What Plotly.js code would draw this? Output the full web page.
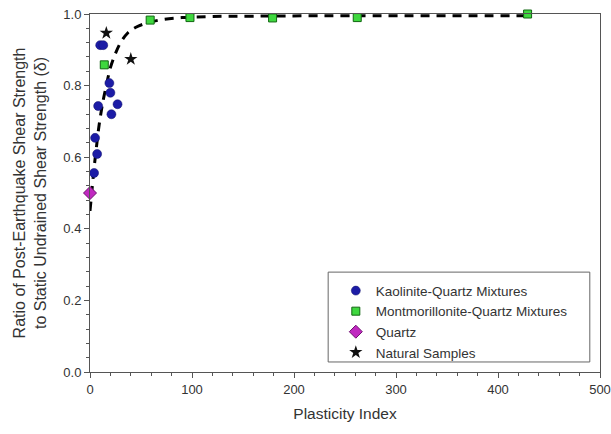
<!DOCTYPE html>
<html>
<head>
<meta charset="utf-8">
<script src="https://cdn.plot.ly/plotly-3.0.1.min.js"></script>
<style>html,body{margin:0;padding:0;background:#fff;}#chart{width:611px;height:434px;}</style>
</head>
<body>
<div id="chart"></div>
<script>
// Kaolinite-Quartz Mixtures
const kaolX = [10, 13, 19, 20, 8, 27, 21, 5, 7, 4];
const kaolY = [0.913, 0.913, 0.807, 0.78, 0.743, 0.748, 0.72, 0.654, 0.609, 0.556];
// Montmorillonite-Quartz Mixtures
const montX = [14, 59, 98, 179, 262, 429];
const montY = [0.858, 0.983, 0.99, 0.989, 0.99, 1.0];
// Quartz
const quartzX = [0];
const quartzY = [0.5];
// Natural Samples
const natX = [16, 40];
const natY = [0.947, 0.874];
// Trend curve
const curveX = [0, 2, 4, 6, 8, 10, 13, 16, 20, 25, 30, 37, 45, 56, 70, 90, 120, 160, 220, 300, 430];
const curveY = [0.45, 0.51, 0.57, 0.62, 0.67, 0.71, 0.76, 0.80, 0.85, 0.89, 0.92, 0.947, 0.963, 0.975, 0.984, 0.990, 0.993, 0.994, 0.995, 0.995, 0.995];

const FONT = 'Arial, Liberation Sans, sans-serif';

const traces = [
  {x: curveX, y: curveY, mode: 'lines', line: {color: '#000', width: 3, dash: '9px,7px', shape: 'spline'}, showlegend: false, hoverinfo: 'skip', cliponaxis: false},
  {x: kaolX, y: kaolY, mode: 'markers', name: 'Kaolinite-Quartz Mixtures', cliponaxis: false,
   marker: {symbol: 'circle', size: 9, color: '#1c1ca6', line: {color: '#10106a', width: 0.5}}},
  {x: montX, y: montY, mode: 'markers', name: 'Montmorillonite-Quartz Mixtures', cliponaxis: false,
   marker: {symbol: 'square', size: 8, color: '#3fd83f', line: {color: '#126612', width: 1}}},
  {x: quartzX, y: quartzY, mode: 'markers', name: 'Quartz', cliponaxis: false,
   marker: {symbol: 'diamond', size: 10, color: '#c028c0', line: {color: '#701070', width: 1}}},
  {x: natX, y: natY, mode: 'markers', name: 'Natural Samples', cliponaxis: false,
   marker: {symbol: 'star', size: 10, color: '#111', line: {width: 0}}}
];

const axisCommon = {
  showgrid: false, zeroline: false, showline: true, linecolor: '#555', linewidth: 1,
  mirror: true, ticks: 'outside', ticklen: 5, tickcolor: '#555', tickwidth: 1,
  tickfont: {family: FONT, size: 13, color: '#333'}
};

const layout = {
  width: 611, height: 434,
  margin: {l: 90, r: 11, t: 14, b: 62},
  paper_bgcolor: '#fff', plot_bgcolor: '#fff',
  xaxis: Object.assign({}, axisCommon, {
    range: [0, 500], tickvals: [0, 100, 200, 300, 400, 500],
    minor: {dtick: 20, ticks: 'outside', ticklen: 3, tickcolor: '#555'},
    title: {text: 'Plasticity Index', font: {family: FONT, size: 15.5, color: '#333'}, standoff: 12}
  }),
  yaxis: Object.assign({}, axisCommon, {
    range: [0, 1.0], tickvals: [0, 0.2, 0.4, 0.6, 0.8, 1.0], tickformat: '.1f',
    minor: {dtick: 0.04, ticks: 'outside', ticklen: 3, tickcolor: '#555'},
    title: {text: 'Ratio of Post-Earthquake Shear Strength<br>to Static Undrained Shear Strength (δ)', font: {family: FONT, size: 16, color: '#333'}, standoff: 12}
  }),
  legend: {
    x: 0.482, y: 0.27, xanchor: 'left', yanchor: 'top',
    bgcolor: 'rgba(0,0,0,0)', borderwidth: 0,
    font: {family: FONT, size: 13.5, color: '#333'},
    itemsizing: 'trace', tracegroupgap: 0, itemwidth: 30
  },
  shapes: [{type: 'rect', xref: 'paper', yref: 'paper', x0: 0.467, x1: 0.980, y0: 0.028, y1: 0.279,
            line: {color: '#666', width: 1}, fillcolor: 'rgba(0,0,0,0)', layer: 'below'}],
  showlegend: true
};

Plotly.newPlot('chart', traces, layout, {displayModeBar: false, staticPlot: true});
</script>
</body>
</html>
